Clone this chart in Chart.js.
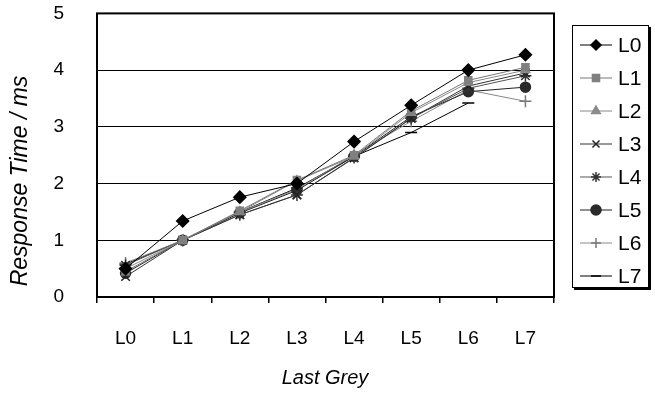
<!DOCTYPE html>
<html>
<head>
<meta charset="utf-8">
<script src="https://cdn.jsdelivr.net/npm/chart.js@4"></script>
<style>
  html, body { margin: 0; padding: 0; background: #fff; }
  #wrap { width: 655px; height: 394px; }
</style>
</head>
<body>
<div id="wrap"><canvas id="chart" width="655" height="394"></canvas></div>
<script>
// Data
const categories = ["L0", "L1", "L2", "L3", "L4", "L5", "L6", "L7"];
const seriesNames = ["L0", "L1", "L2", "L3", "L4", "L5", "L6", "L7"];
const sL0 = [0.50, 1.34, 1.76, 2.00, 2.74, 3.38, 4.00, 4.27];
const sL1 = [0.45, 1.00, 1.52, 2.06, 2.50, 3.28, 3.82, 4.05];
const sL2 = [0.50, 1.00, 1.50, 2.05, 2.48, 3.25, 3.78, 4.00];
const sL3 = [0.36, 1.00, 1.45, 1.80, 2.45, 3.15, 3.72, 3.95];
const sL4 = [0.56, 1.00, 1.45, 1.80, 2.46, 3.15, 3.68, 3.90];
const sL5 = [0.42, 1.00, 1.48, 1.88, 2.48, 3.18, 3.62, 3.70];
const sL6 = [0.60, 1.00, 1.50, 1.90, 2.50, 3.10, 3.65, 3.45];
const sL7 = [0.58, 1.00, 1.50, 1.92, 2.48, 2.90, 3.42, null];
const yTicks = [0, 1, 2, 3, 4, 5];

const seriesValues = [sL0, sL1, sL2, sL3, sL4, sL5, sL6, sL7];
const styles = [
  { point: "rectRot", radius: 6, color: "#000", line: "#000" },
  { point: "rect", radius: 5, color: "#808080", line: "#777" },
  { point: "triangle", radius: 5, color: "#8c8c8c", line: "#888" },
  { point: "crossRot", radius: 6, color: "#222", line: "#333" },
  { point: "star", radius: 6, color: "#333", line: "#555" },
  { point: "circle", radius: 5, color: "#2a2a2a", line: "#222" },
  { point: "cross", radius: 6, color: "#777", line: "#888" },
  { point: "line", radius: 6, color: "#000", line: "#000" },
];

const datasets = seriesNames.map((name, i) => ({
  label: name,
  data: seriesValues[i],
  borderColor: styles[i].line,
  borderWidth: 1,
  pointStyle: styles[i].point,
  pointRadius: styles[i].radius,
  pointBackgroundColor: styles[i].color,
  pointBorderColor: styles[i].color,
  pointBorderWidth: 1.5,
  tension: 0,
  fill: false,
}));

const font = "Liberation Sans, Arial, sans-serif";

// frame, titles and boxed legend
const extras = {
  id: "extras",
  afterDraw(chart) {
    const { ctx, chartArea: a } = chart;
    ctx.save();
    ctx.strokeStyle = "#000";
    ctx.lineWidth = 2;
    ctx.strokeRect(a.left, a.top, a.right - a.left, a.bottom - a.top);

    ctx.fillStyle = "#000";
    ctx.textAlign = "center";
    ctx.textBaseline = "middle";
    ctx.font = "italic 20px " + font;
    ctx.fillText("Last Grey", 325, 378);
    ctx.font = "italic 23px " + font;
    ctx.translate(21, 181);
    ctx.rotate(-Math.PI / 2);
    ctx.fillText("Response Time / ms", 0, 0);
    ctx.restore();

    // legend box
    ctx.save();
    const lx = 572, ly = 25, lw = 76, lh = 262;
    ctx.fillStyle = "#000";
    ctx.fillRect(lx + 2, ly + 2, lw + 1, lh + 1);
    ctx.fillStyle = "#fff";
    ctx.fillRect(lx, ly, lw, lh);
    ctx.strokeStyle = "#000";
    ctx.lineWidth = 1;
    ctx.strokeRect(lx + 0.5, ly + 0.5, lw, lh);
    ctx.font = "21px " + font;
    ctx.textBaseline = "middle";
    ctx.textAlign = "left";
    seriesNames.forEach((name, i) => {
      const y = 45 + i * 33;
      ctx.strokeStyle = styles[i].line;
      ctx.beginPath();
      ctx.moveTo(580, y);
      ctx.lineTo(612, y);
      ctx.stroke();
      ctx.fillStyle = styles[i].color;
      ctx.strokeStyle = styles[i].color;
      ctx.lineWidth = 1.5;
      Chart.helpers.drawPoint(ctx, {
        pointStyle: styles[i].point,
        radius: 5,
        borderWidth: 1.5,
      }, 596, y);
      ctx.lineWidth = 1;
      ctx.fillStyle = "#000";
      ctx.fillText(name, 618, y + 1);
    });
    ctx.restore();
  },
};

new Chart(document.getElementById("chart"), {
  type: "line",
  data: { labels: categories, datasets },
  options: {
    responsive: false,
    animation: false,
    layout: { padding: { left: 0, right: 101, top: 13, bottom: 0 } },
    plugins: { legend: { display: false }, tooltip: { enabled: false } },
    scales: {
      x: {
        offset: true,
        afterFit: (s) => { s.height = 97; },
        grid: {
          offset: true,
          drawOnChartArea: false,
          drawTicks: true,
          tickLength: 6,
          color: "#000",
          lineWidth: 1.5,
        },
        border: { display: false },
        ticks: {
          color: "#000",
          font: { family: font, size: 19 },
          padding: 24,
        },
      },
      y: {
        min: 0,
        max: 5,
        afterFit: (s) => { s.width = 97; },
        afterBuildTicks: (s) => { s.ticks = yTicks.map((v) => ({ value: v })); },
        // invisible long tick marks push the labels left without adding top padding
        grid: {
          color: "#000",
          lineWidth: 1,
          drawTicks: true,
          tickLength: 31,
          tickColor: "rgba(0,0,0,0)",
        },
        border: { display: false },
        ticks: {
          color: "#000",
          font: { family: font, size: 19 },
          padding: 2,
        },
      },
    },
  },
  plugins: [extras],
});
</script>
</body>
</html>
